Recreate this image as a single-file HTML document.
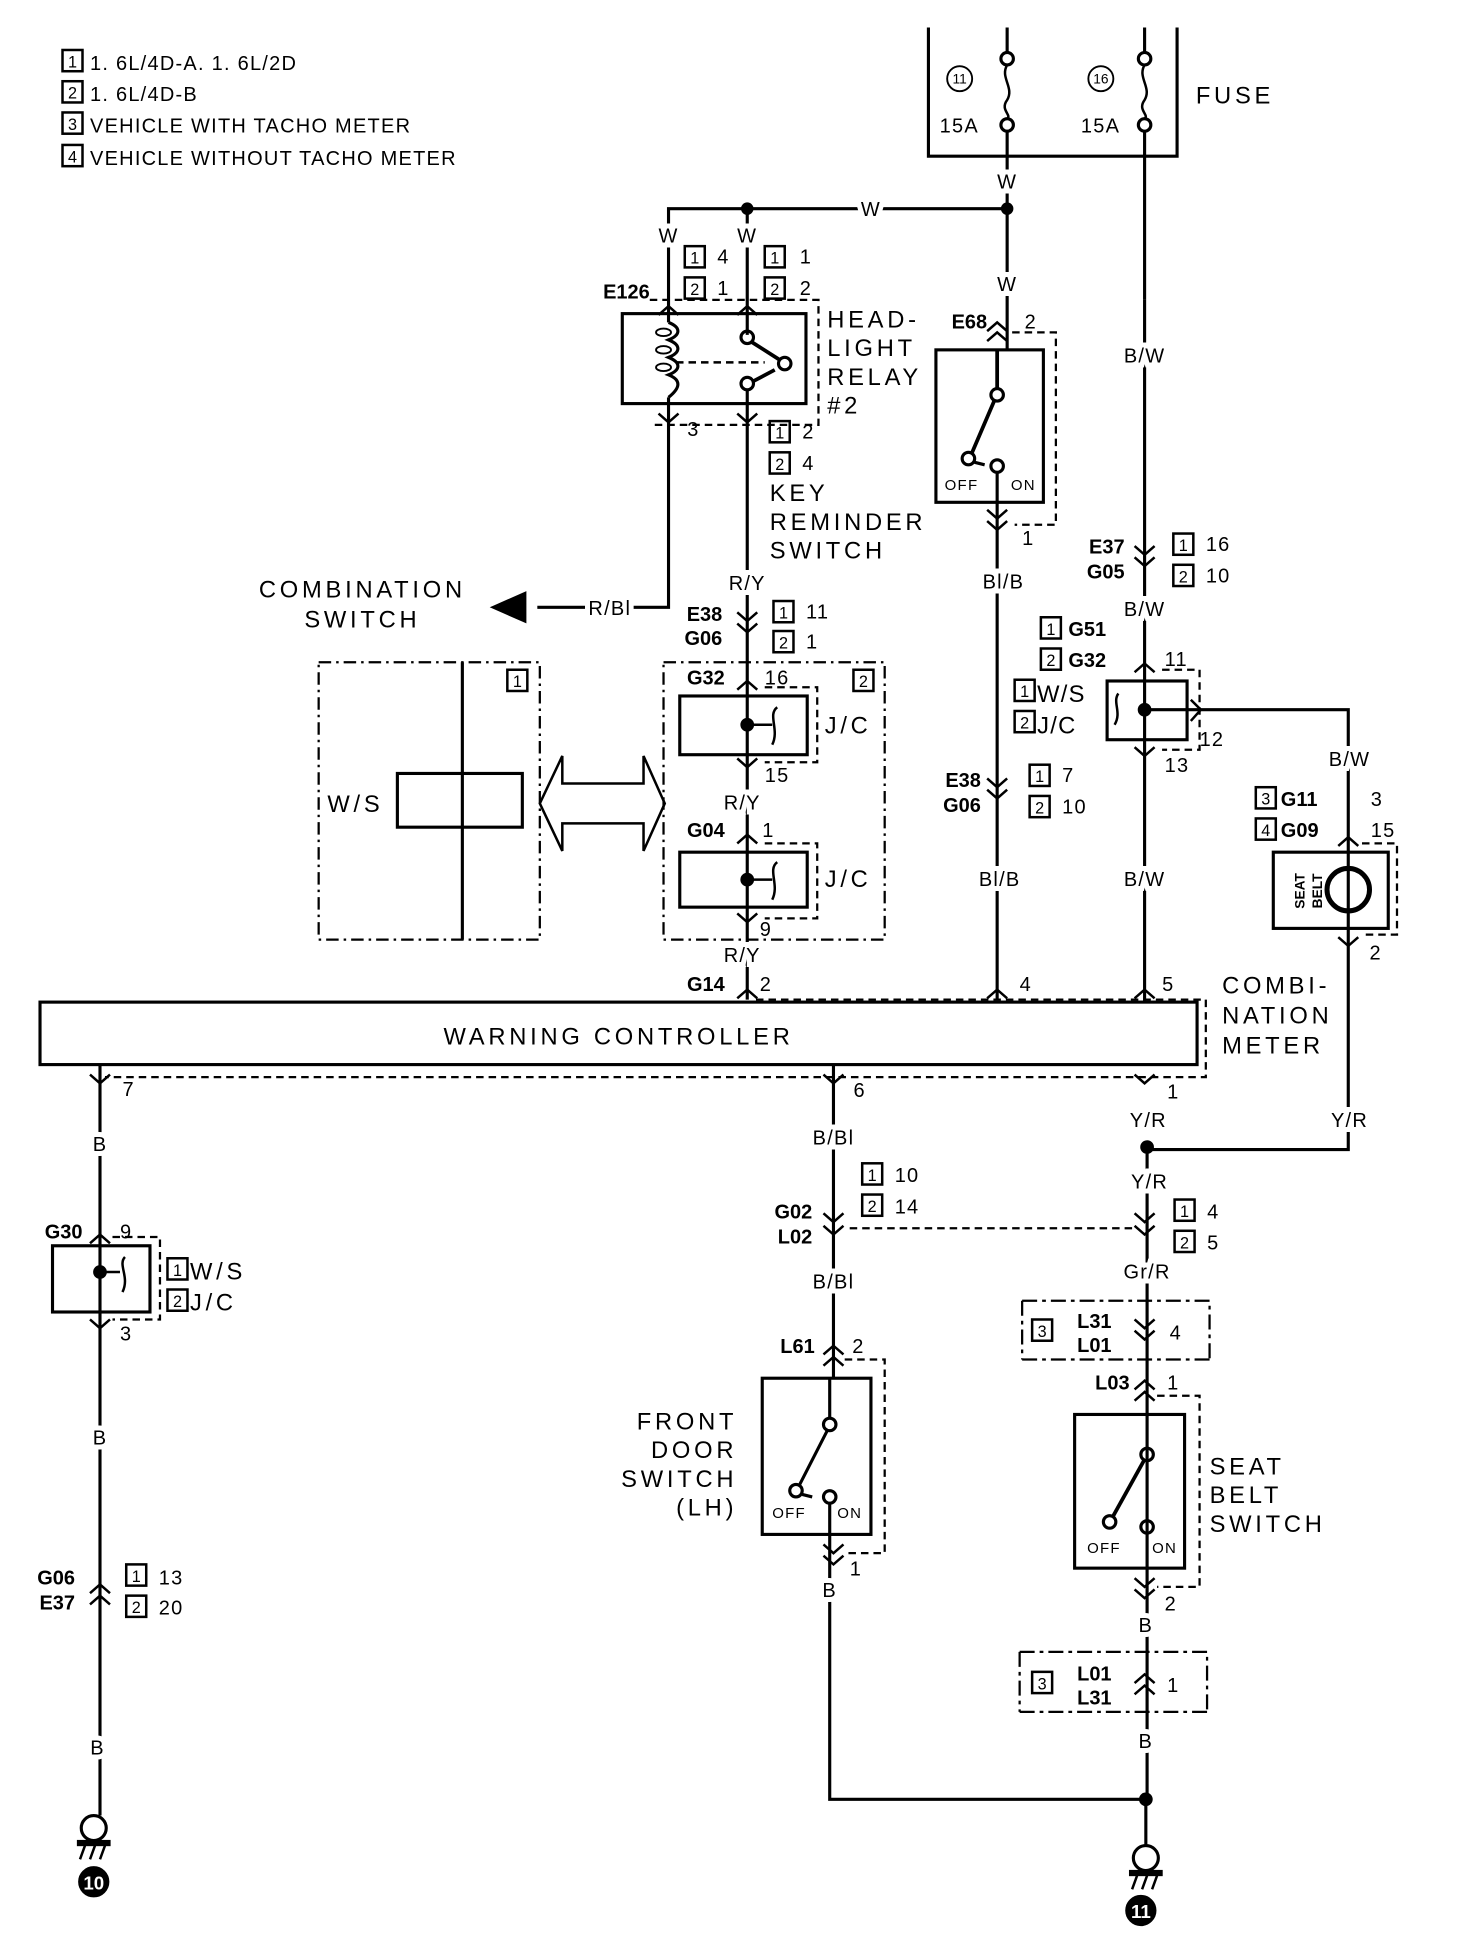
<!DOCTYPE html>
<html><head><meta charset="utf-8"><style>
html,body{margin:0;padding:0;background:#fff}
svg{display:block}
text{font-family:"Liberation Sans",sans-serif;fill:#000}
.t{font-size:19px;letter-spacing:3px}
.s{font-size:16px;letter-spacing:1px}
.b{font-size:16px;font-weight:bold}
.w{font-size:16px;letter-spacing:1px;paint-order:stroke;stroke:#fff;stroke-width:8px}
.bx{font-size:13px}
</style></head><body>
<svg width="1472" height="1958" viewBox="0 0 1178 1567" xmlns="http://www.w3.org/2000/svg">
<defs>
<path id="v" d="M-8,-7 L0,0 L8,-7" fill="none" stroke="#000" stroke-width="2"/>
<path id="a" d="M-8,7 L0,0 L8,7" fill="none" stroke="#000" stroke-width="2"/>
</defs>
<g stroke="#000" stroke-width="2.5" fill="none">
<path d="M743,22 V125 H942 V22"/>
<path d="M806,22 V42 M806,106 V167 M916,22 V42 M916,106 V240"/>
<circle cx="806" cy="47" r="5"/><circle cx="806" cy="100" r="5"/>
<circle cx="916" cy="47" r="5"/><circle cx="916" cy="100" r="5"/>
<path d="M806,52 C800,62 812,70 806,80 C800,88 810,92 806,95" stroke-width="2"/>
<path d="M916,52 C910,62 922,70 916,80 C910,88 920,92 916,95" stroke-width="2"/>
<circle cx="768" cy="63" r="10" stroke-width="1.5"/><circle cx="881" cy="63" r="10" stroke-width="1.5"/>
<path d="M535,258 V167 H806 V280"/>
<path d="M598,167 V268"/>
<rect x="498" y="251" width="147" height="72"/>
<path d="M520,240 H655 V340 H520" stroke-dasharray="6,4" stroke-width="1.8"/>
<path d="M535,258 C545,262 545,268 535,272 C545,276 545,282 535,286 C545,290 545,296 535,300 C545,304 545,310 535,318 M535,318 V486 H430" stroke-width="2.5"/>
<ellipse cx="531" cy="266" rx="6" ry="3" stroke-width="1.5"/><ellipse cx="531" cy="280" rx="6" ry="3" stroke-width="1.5"/><ellipse cx="531" cy="294" rx="6" ry="3" stroke-width="1.5"/>
<path d="M541,290 H612" stroke-dasharray="6,4" stroke-width="2"/>
<circle cx="598" cy="270" r="5"/><circle cx="628" cy="291" r="5"/><circle cx="598" cy="307" r="5"/>
<path d="M602,274 L624,288 M603,305 L620,296" stroke-width="3"/>
<path d="M598,312 V800"/>
<rect x="749" y="280" width="86" height="122"/>
<path d="M810,266 H845 V420 H812" stroke-dasharray="6,4" stroke-width="1.8"/>
<circle cx="798" cy="316" r="5"/><circle cx="775" cy="367" r="5"/><circle cx="798" cy="373" r="5"/>
<path d="M798,280 V311 M796,320 L778,362" stroke-width="3"/>
<path d="M780,370 L788,372 M798,378 V800"/>
<polygon points="395,486 420,475 420,497" fill="#000"/>
<path d="M255,530 H432 V752 H255 Z" stroke-dasharray="10,4,2,4" stroke-width="1.8"/>
<path d="M370,530 V752"/>
<rect x="318" y="619" width="100" height="43"/>
<path d="M432,643 L450,605 V627 H515 V605 L532,643 L515,681 V659 H450 V681 Z" stroke-width="2"/>
<path d="M531,530 H708 V752 H531 Z" stroke-dasharray="10,4,2,4" stroke-width="1.8"/>
<rect x="544" y="557" width="102" height="47"/>
<path d="M612,550 H654 V610 H612" stroke-dasharray="6,4" stroke-width="1.8"/>
<path d="M598,580 H618 M622,566 C614,572 624,584 618,596" stroke-width="2"/>
<rect x="544" y="682" width="102" height="44"/>
<path d="M612,675 H654 V735 H612" stroke-dasharray="6,4" stroke-width="1.8"/>
<path d="M598,704 H618 M622,690 C614,696 624,708 618,720" stroke-width="2"/>
<path d="M916,240 V802"/>
<rect x="886" y="545" width="64" height="47"/>
<path d="M930,536 H960 V600 H930" stroke-dasharray="6,4" stroke-width="1.8"/>
<path d="M916,568 H1079 V920 H918 V1440"/>
<path d="M953,560 L961,568 L953,577" stroke-width="2"/>
<path d="M895,555 C890,562 898,570 892,580" stroke-width="2"/>
<rect x="1019" y="682" width="92" height="61"/>
<path d="M1090,675 H1118 V748 H1090" stroke-dasharray="6,4" stroke-width="1.8"/>
<circle cx="1079" cy="712" r="17" stroke-width="4"/>
<rect x="32" y="802" width="926" height="50"/>
<path d="M605,800 H965 V862 H84" stroke-dasharray="6,4" stroke-width="1.8"/>
<path d="M80,852 V1453"/>
<rect x="42" y="997" width="78" height="53"/>
<path d="M90,990 H128 V1056 H90" stroke-dasharray="6,4" stroke-width="1.8"/>
<path d="M80,1018 H96 M100,1006 C94,1012 104,1022 98,1034" stroke-width="2"/>
<circle cx="75" cy="1463" r="10"/>
<path d="M667,852 V1103" stroke-width="2.5"/>
<path d="M680,983 H910" stroke-dasharray="6,4" stroke-width="1.8"/>
<rect x="610" y="1103" width="87" height="125"/>
<path d="M676,1088 H708 V1243 H676" stroke-dasharray="6,4" stroke-width="1.8"/>
<circle cx="664" cy="1140" r="5"/><circle cx="637" cy="1193" r="5"/><circle cx="664" cy="1198" r="5"/>
<path d="M664,1103 V1135 M662,1145 L640,1188 M642,1196 L650,1198 M664,1203 V1440 H917"/>
<path d="M818,1041 H968 V1088 M818,1088 H968 M818,1041 V1088" stroke-dasharray="12,4,3,4" stroke-width="1.8"/>
<rect x="860" y="1132" width="88" height="123"/>
<path d="M926,1117 H960 V1270 H926" stroke-dasharray="6,4" stroke-width="1.8"/>
<circle cx="918" cy="1164" r="5"/><circle cx="888" cy="1218" r="5"/><circle cx="918" cy="1222" r="5"/>
<path d="M916,1168 L891,1213" stroke-width="3"/>
<path d="M816,1322 H966 V1370 M816,1370 H966 M816,1322 V1370" stroke-dasharray="12,4,3,4" stroke-width="1.8"/>
<circle cx="917" cy="1487" r="10"/>
<path d="M917,1440 V1477"/>
</g>
<g fill="#000" stroke="#000">
<rect x="62" y="1473" width="26" height="4"/><path d="M68,1477 L64,1488 M76,1477 L72,1488 M84,1477 L80,1488" stroke-width="2"/>
<rect x="904" y="1497" width="26" height="4"/><path d="M910,1501 L906,1512 M918,1501 L914,1512 M926,1501 L922,1512" stroke-width="2"/>
<circle cx="75" cy="1506" r="12"/><circle cx="913" cy="1529" r="12"/>
<circle cx="598" cy="167" r="4.5"/><circle cx="806" cy="167" r="4.5"/><circle cx="916" cy="568" r="5"/>
<circle cx="598" cy="580" r="5"/><circle cx="598" cy="704" r="5"/><circle cx="80" cy="1018" r="5"/>
<circle cx="918" cy="918" r="5"/><circle cx="917" cy="1440" r="5"/>
</g>
<text x="75" y="1512" text-anchor="middle" style="font-size:15px;font-weight:bold;fill:#fff">10</text>
<text x="913" y="1535" text-anchor="middle" style="font-size:15px;font-weight:bold;fill:#fff">11</text>
<use href="#v" x="535" y="338"/><use href="#v" x="598" y="338"/>
<use href="#a" x="535" y="245"/><use href="#a" x="598" y="245"/>
<use href="#a" x="798" y="258"/><use href="#a" x="798" y="266"/>
<use href="#v" x="798" y="415"/><use href="#v" x="798" y="424"/>
<use href="#v" x="916" y="444"/><use href="#v" x="916" y="453"/>
<use href="#v" x="598" y="497"/><use href="#v" x="598" y="506"/>
<use href="#a" x="598" y="545"/><use href="#v" x="598" y="614"/>
<use href="#a" x="598" y="668"/><use href="#v" x="598" y="738"/>
<use href="#a" x="598" y="792"/><use href="#a" x="798" y="792"/><use href="#a" x="916" y="792"/>
<use href="#a" x="916" y="531"/><use href="#v" x="916" y="605"/>
<use href="#v" x="798" y="630"/><use href="#v" x="798" y="639"/>
<use href="#a" x="1079" y="670"/><use href="#v" x="1079" y="757"/>
<use href="#v" x="80" y="867"/><use href="#v" x="667" y="867"/><use href="#v" x="916" y="867"/>
<use href="#a" x="80" y="988"/><use href="#v" x="80" y="1063"/>
<use href="#v" x="667" y="978"/><use href="#v" x="667" y="988"/>
<use href="#v" x="916" y="978"/><use href="#v" x="916" y="988"/>
<use href="#v" x="916" y="1063"/><use href="#v" x="916" y="1072"/>
<use href="#a" x="667" y="1077"/><use href="#a" x="667" y="1086"/>
<use href="#v" x="667" y="1243"/><use href="#v" x="667" y="1252"/>
<use href="#a" x="916" y="1105"/><use href="#a" x="916" y="1114"/>
<use href="#v" x="916" y="1270"/><use href="#v" x="916" y="1279"/>
<use href="#a" x="916" y="1340"/><use href="#a" x="916" y="1349"/>
<use href="#a" x="80" y="1268"/><use href="#a" x="80" y="1277"/>
<g stroke="#000" stroke-width="2" fill="none">
<rect x="50" y="40" width="16" height="17"/><rect x="50" y="65" width="16" height="17"/><rect x="50" y="90" width="16" height="17"/><rect x="50" y="116" width="16" height="17"/>
<rect x="548" y="197" width="16" height="17"/><rect x="548" y="222" width="16" height="17"/>
<rect x="612" y="197" width="16" height="17"/><rect x="612" y="222" width="16" height="17"/>
<rect x="616" y="337" width="16" height="17"/><rect x="616" y="362" width="16" height="17"/>
<rect x="619" y="481" width="16" height="17"/><rect x="619" y="505" width="16" height="17"/>
<rect x="406" y="536" width="16" height="17"/><rect x="683" y="536" width="16" height="17"/>
<rect x="939" y="427" width="16" height="17"/><rect x="939" y="452" width="16" height="17"/>
<rect x="833" y="494" width="16" height="17"/><rect x="833" y="519" width="16" height="17"/>
<rect x="812" y="544" width="16" height="17"/><rect x="812" y="569" width="16" height="17"/>
<rect x="824" y="612" width="16" height="17"/><rect x="824" y="637" width="16" height="17"/>
<rect x="1005" y="630" width="16" height="17"/><rect x="1005" y="655" width="16" height="17"/>
<rect x="134" y="1007" width="16" height="17"/><rect x="134" y="1032" width="16" height="17"/>
<rect x="690" y="931" width="16" height="17"/><rect x="690" y="956" width="16" height="17"/>
<rect x="940" y="960" width="16" height="17"/><rect x="940" y="985" width="16" height="17"/>
<rect x="826" y="1056" width="16" height="17"/><rect x="826" y="1338" width="16" height="17"/>
<rect x="101" y="1252" width="16" height="17"/><rect x="101" y="1277" width="16" height="17"/>
</g>
<g class="bx" text-anchor="middle">
<text x="58" y="54">1</text><text x="58" y="79">2</text><text x="58" y="104">3</text><text x="58" y="130">4</text>
<text x="556" y="211">1</text><text x="556" y="236">2</text><text x="620" y="211">1</text><text x="620" y="236">2</text>
<text x="624" y="351">1</text><text x="624" y="376">2</text><text x="627" y="495">1</text><text x="627" y="519">2</text>
<text x="414" y="550">1</text><text x="691" y="550">2</text>
<text x="947" y="441">1</text><text x="947" y="466">2</text><text x="841" y="508">1</text><text x="841" y="533">2</text>
<text x="820" y="558">1</text><text x="820" y="583">2</text><text x="832" y="626">1</text><text x="832" y="651">2</text>
<text x="1013" y="644">3</text><text x="1013" y="669">4</text><text x="142" y="1021">1</text><text x="142" y="1046">2</text>
<text x="698" y="945">1</text><text x="698" y="970">2</text><text x="948" y="974">1</text><text x="948" y="999">2</text>
<text x="834" y="1070">3</text><text x="834" y="1352">3</text><text x="109" y="1266">1</text><text x="109" y="1291">2</text>
</g>
<g class="s">
<text x="72" y="56">1. 6L/4D-A. 1. 6L/2D</text>
<text x="72" y="81">1. 6L/4D-B</text>
<text x="72" y="106">VEHICLE WITH TACHO METER</text>
<text x="72" y="132">VEHICLE WITHOUT TACHO METER</text>
</g>
<g class="t">
<text x="957" y="83">FUSE</text>
<text x="662" y="262">HEAD-</text><text x="662" y="285">LIGHT</text><text x="662" y="308">RELAY</text><text x="662" y="331">#2</text>
<text x="616" y="401">KEY</text><text x="616" y="424">REMINDER</text><text x="616" y="447">SWITCH</text>
<text x="290" y="478" text-anchor="middle">COMBINATION</text><text x="290" y="502" text-anchor="middle">SWITCH</text>
<text x="262" y="650">W/S</text><text x="660" y="587">J/C</text><text x="660" y="710">J/C</text>
<text x="830" y="562" style="letter-spacing:1px">W/S</text><text x="830" y="587" style="letter-spacing:1px">J/C</text>
<text x="495" y="836" text-anchor="middle">WARNING CONTROLLER</text>
<text x="978" y="795">COMBI-</text><text x="978" y="819">NATION</text><text x="978" y="843">METER</text>
<text x="152" y="1024">W/S</text><text x="152" y="1049">J/C</text>
<text x="590" y="1144" text-anchor="end">FRONT</text><text x="590" y="1167" text-anchor="end">DOOR</text><text x="590" y="1190" text-anchor="end">SWITCH</text><text x="590" y="1213" text-anchor="end">(LH)</text>
<text x="968" y="1180">SEAT</text><text x="968" y="1203">BELT</text><text x="968" y="1226">SWITCH</text>
</g>
<g class="s">
<text x="752" y="106">15A</text><text x="865" y="106">15A</text>
<text x="574" y="211">4</text><text x="574" y="236">1</text><text x="640" y="211">1</text><text x="640" y="236">2</text>
<text x="550" y="349">3</text><text x="642" y="351">2</text><text x="642" y="376">4</text>
<text x="820" y="263">2</text><text x="818" y="436">1</text>
<text x="645" y="495">11</text><text x="645" y="519">1</text>
<text x="612" y="548">16</text><text x="612" y="626">15</text><text x="610" y="670">1</text><text x="608" y="749">9</text>
<text x="608" y="793">2</text><text x="816" y="793">4</text><text x="930" y="793">5</text>
<text x="965" y="441">16</text><text x="965" y="466">10</text><text x="932" y="533">11</text><text x="960" y="597">12</text><text x="932" y="618">13</text>
<text x="850" y="626">7</text><text x="850" y="651">10</text>
<text x="1097" y="645">3</text><text x="1097" y="670">15</text><text x="1096" y="768">2</text>
<text x="98" y="877">7</text><text x="683" y="878">6</text><text x="934" y="879">1</text>
<text x="96" y="991">9</text><text x="96" y="1073">3</text>
<text x="716" y="946">10</text><text x="716" y="971">14</text><text x="966" y="975">4</text><text x="966" y="1000">5</text>
<text x="936" y="1072">4</text><text x="934" y="1112">1</text><text x="682" y="1083">2</text><text x="680" y="1261">1</text>
<text x="932" y="1289">2</text><text x="934" y="1354">1</text>
<text x="127" y="1268">13</text><text x="127" y="1292">20</text>
<text x="756" y="392" style="font-size:12px">OFF</text><text x="809" y="392" style="font-size:12px">ON</text>
<text x="618" y="1215" style="font-size:12px">OFF</text><text x="670" y="1215" style="font-size:12px">ON</text>
<text x="870" y="1243" style="font-size:12px">OFF</text><text x="922" y="1243" style="font-size:12px">ON</text>
</g>
<g class="bx" text-anchor="middle" style="font-size:11px"><text x="768" y="67">11</text><text x="881" y="67">16</text></g>
<g class="b" text-anchor="end">
<text x="520" y="239">E126</text><text x="790" y="263">E68</text>
<text x="900" y="443">E37</text><text x="900" y="463">G05</text>
<text x="578" y="497">E38</text><text x="578" y="516">G06</text>
<text x="580" y="548">G32</text><text x="580" y="670">G04</text><text x="580" y="793">G14</text>
<text x="785" y="630">E38</text><text x="785" y="650">G06</text>
<text x="66" y="991">G30</text><text x="650" y="975">G02</text><text x="650" y="995">L02</text>
<text x="652" y="1083">L61</text><text x="904" y="1112">L03</text>
<text x="60" y="1268">G06</text><text x="60" y="1288">E37</text>
</g>
<g class="b">
<text x="855" y="509">G51</text><text x="855" y="534">G32</text>
<text x="1025" y="645">G11</text><text x="1025" y="670">G09</text>
<text x="862" y="1063">L31</text><text x="862" y="1082">L01</text>
<text x="862" y="1345">L01</text><text x="862" y="1364">L31</text>
</g>
<text transform="translate(1044,713) rotate(-90)" text-anchor="middle" style="font-size:11px;font-weight:bold">SEAT</text>
<text transform="translate(1058,713) rotate(-90)" text-anchor="middle" style="font-size:11px;font-weight:bold">BELT</text>
<g class="w" text-anchor="middle">
<text x="806" y="151">W</text><text x="697" y="173">W</text><text x="535" y="194">W</text><text x="598" y="194">W</text>
<text x="806" y="233">W</text><text x="916" y="290">B/W</text><text x="803" y="471">Bl/B</text><text x="916" y="493">B/W</text>
<text x="488" y="492">R/Bl</text><text x="598" y="472">R/Y</text><text x="594" y="648">R/Y</text><text x="594" y="770">R/Y</text>
<text x="1080" y="613">B/W</text><text x="800" y="709">Bl/B</text><text x="916" y="709">B/W</text>
<text x="80" y="921">B</text><text x="667" y="916">B/Bl</text><text x="919" y="902">Y/R</text><text x="1080" y="902">Y/R</text>
<text x="920" y="951">Y/R</text><text x="667" y="1031">B/Bl</text><text x="918" y="1023">Gr/R</text>
<text x="80" y="1156">B</text><text x="664" y="1278">B</text><text x="917" y="1306">B</text><text x="917" y="1399">B</text><text x="78" y="1404">B</text>
</g>
</svg>
</body></html>
